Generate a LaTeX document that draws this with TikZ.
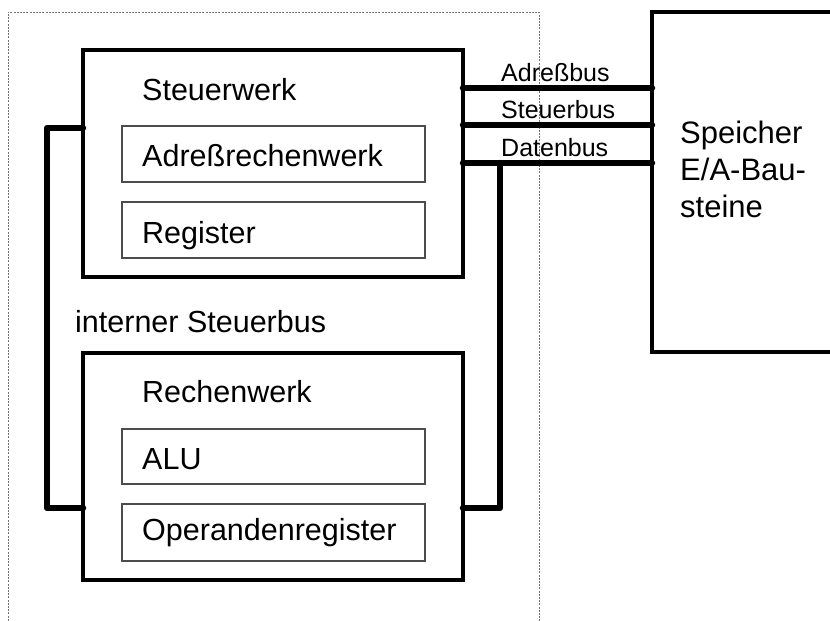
\documentclass[tikz,border=0pt]{standalone}
\usepackage{fontspec}
\setmainfont{Liberation Sans}
\begin{document}
\begin{tikzpicture}[x=1pt,y=-1pt,
  outer/.style={draw=black!55, line width=1pt, dash pattern=on 2pt off 1.2pt},
  mainbox/.style={draw=black, line width=3.5pt, rectangle, anchor=north west, inner sep=0pt, outer sep=0pt},
  innerbox/.style={draw=black!70, line width=1.1pt, rectangle, anchor=north west, inner sep=0pt, outer sep=0pt},
  lbl/.style={anchor=base west, inner sep=0pt, font=\fontsize{30.5}{36}\selectfont},
  buslbl/.style={anchor=base west, inner sep=0pt, font=\fontsize{25}{30}\selectfont},
  bus/.style={draw=black, line width=6.5pt, line cap=round, line join=round}]
\useasboundingbox (0,0) rectangle (830,621);
\clip (0,0) rectangle (830,621);
\fill[white] (0,0) rectangle (830,621);
% outer dashed frame
\draw[outer] (8,640) -- (8,12) -- (539,12) -- (539,640);
% main boxes
\node[mainbox, minimum width=380pt, minimum height=227pt] (steuer) at (83,50) {};
\node[mainbox, minimum width=380pt, minimum height=227pt] (rechen) at (83,353) {};
\node[mainbox, minimum width=200pt, minimum height=340pt] (speicher) at (652,12) {};
% inner boxes
\node[innerbox, minimum width=303pt, minimum height=56pt] (arw) at (122,126) {};
\node[innerbox, minimum width=303pt, minimum height=56pt] (reg) at (122,202) {};
\node[innerbox, minimum width=303pt, minimum height=55pt] (alu) at (122,429) {};
\node[innerbox, minimum width=303pt, minimum height=57pt] (opr) at (122,504) {};
% texts
\node[lbl] (tsw) at (142,100) {Steuerwerk};
\node[lbl] (tarw) at (142,166) {Adreßrechenwerk};
\node[lbl] (treg) at (142,243) {Register};
\node[lbl] (tisb) at (75,332) {interner Steuerbus};
\node[lbl] (trw) at (142,402) {Rechenwerk};
\node[lbl] (talu) at (142,469) {ALU};
\node[lbl] (topr) at (142,540) {Operandenregister};
\node[lbl, align=left, anchor=north west, font=\fontsize{31}{37}\selectfont] (tsp) at (680,121) {Speicher\\E/A-Bau-\\steine};
% bus labels
\node[buslbl] (tab) at (501,81) {Adreßbus};
\node[buslbl] (tsb) at (501,118) {Steuerbus};
\node[buslbl] (tdb) at (501,156) {Datenbus};
% bus levels
\coordinate (yA) at (0,88);
\coordinate (yS) at (0,125);
\coordinate (yD) at (0,163);
\coordinate (yT) at (0,128);
\coordinate (yB) at (0,508);
\coordinate (dj) at (500,163);
% external buses
\draw[bus] (steuer.east |- yA) -- (speicher.west |- yA);
\draw[bus] (steuer.east |- yS) -- (speicher.west |- yS);
\draw[bus] (steuer.east |- yD) -- (speicher.west |- yD);
\draw[bus] (dj) |- (rechen.east |- yB);
% internal control bus
\draw[bus] (steuer.west |- yT) -- ++(-36,0) |- (rechen.west |- yB);
\end{tikzpicture}
\end{document}
